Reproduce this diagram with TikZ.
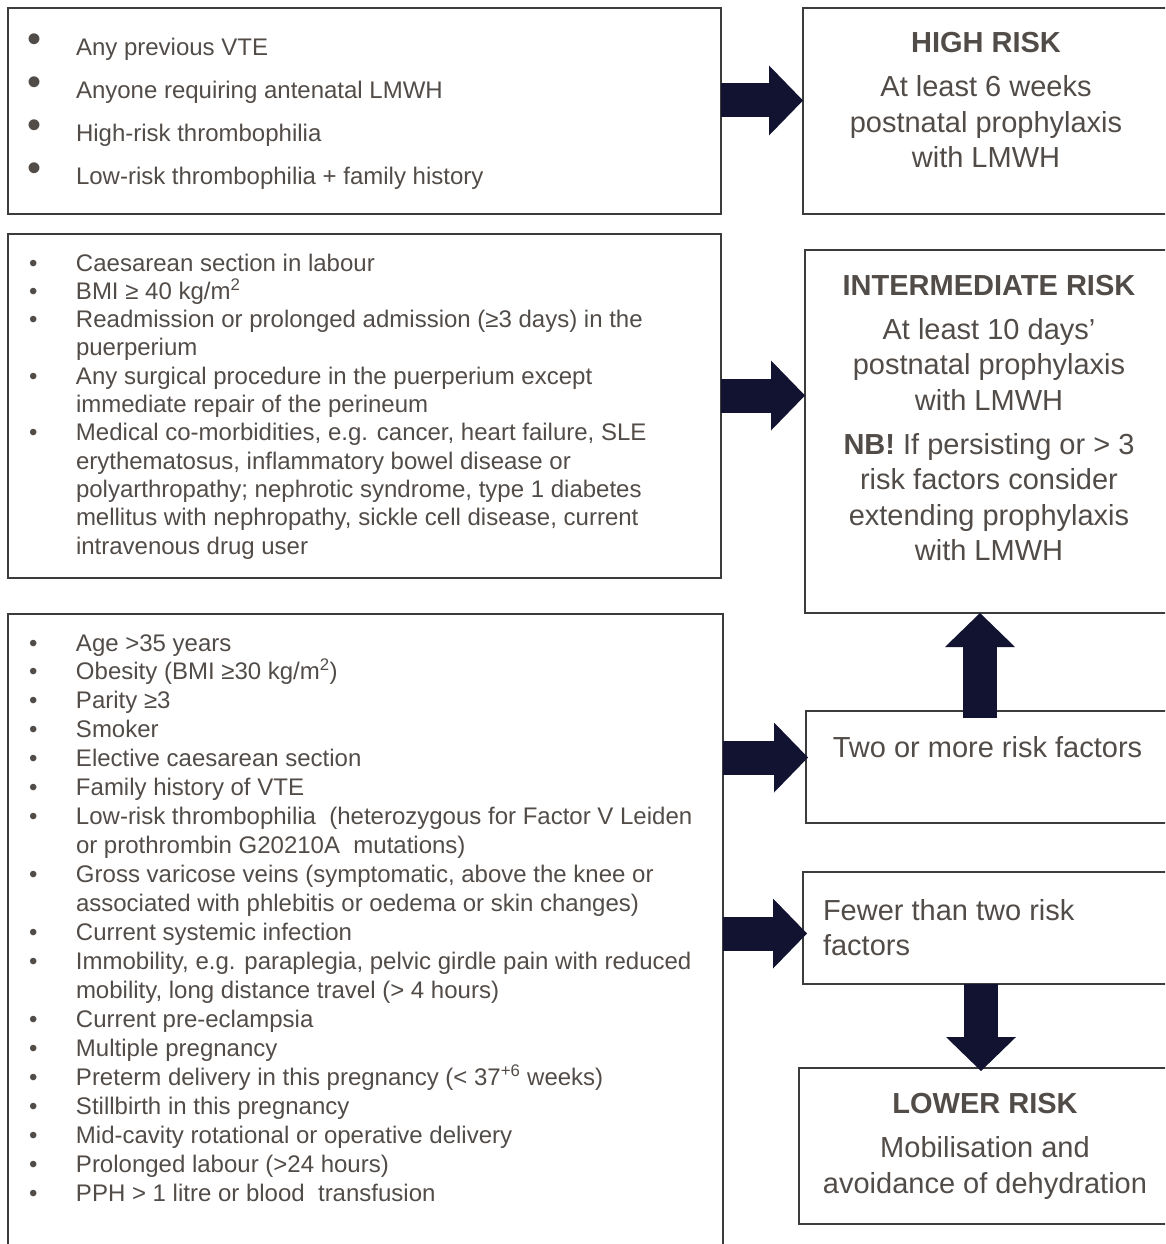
\documentclass[tikz,border=0pt]{standalone}
\usepackage{fontspec}
\setmainfont{Liberation Sans}
\usetikzlibrary{arrows.meta,calc}

\definecolor{txtcol}{RGB}{82,76,72}
\definecolor{arrcol}{RGB}{18,19,48}
\definecolor{linecol}{RGB}{60,60,60}

\newcommand{\hitem}[1]{\par\noindent\makebox[68pt][l]{\hspace*{20pt}\raisebox{2.5pt}{\fontsize{40}{40}\selectfont\textbullet}}#1}
\newcommand{\litem}[1]{\par\hangindent=68pt\hangafter=1\noindent\makebox[68pt][l]{\hspace*{21pt}\textbullet}#1}

\begin{document}
\begin{tikzpicture}[x=1pt,y=-1pt,
  rbox/.style={draw=linecol,line width=1.3pt,inner sep=0pt,outer sep=0pt,text=txtcol,anchor=north west},
  blk/.style={draw=arrcol,line width=34pt,-{Triangle[length=34pt,width=70pt,line width=0pt]}}]
  \useasboundingbox (0,0) rectangle (1165,1244);
  \clip (0,0) rectangle (1165,1244);

  \node[rbox] (risk1) at (8,8) {\parbox[t][206pt][t]{713pt}{\raggedright\fontsize{24}{43}\selectfont
    \hitem{\rule{0pt}{47.5pt}Any previous VTE}
    \hitem{Anyone requiring antenatal LMWH}
    \hitem{High-risk thrombophilia}
    \hitem{Low-risk thrombophilia + family history}}};
  \node[rbox] (risk2) at (8,234) {\parbox[t][344pt][t]{713pt}{\raggedright\fontsize{24}{28.3}\selectfont
    \litem{\rule{0pt}{37pt}Caesarean section in labour}
    \litem{BMI ≥ 40 kg/m\textsuperscript{2}}
    \litem{Readmission or prolonged admission (≥3 days) in the\newline puerperium}
    \litem{Any surgical procedure in the puerperium except\newline immediate repair of the perineum}
    \litem{Medical co-morbidities, e.g. cancer, heart failure, SLE\newline erythematosus, inflammatory bowel disease or\newline polyarthropathy; nephrotic syndrome, type 1 diabetes\newline mellitus with nephropathy, sickle cell disease, current\newline intravenous drug user}}};
  \node[rbox] (risk3) at (8,614) {\parbox[t][650pt][t]{715pt}{\raggedright\fontsize{24}{28.95}\selectfont
    \litem{\rule{0pt}{37pt}Age >35 years}
    \litem{Obesity (BMI ≥30 kg/m\textsuperscript{2})}
    \litem{Parity ≥3}
    \litem{Smoker}
    \litem{Elective caesarean section}
    \litem{Family history of VTE}
    \litem{Low-risk thrombophilia~ (heterozygous for Factor V Leiden\newline or prothrombin G20210A~ mutations)}
    \litem{Gross varicose veins (symptomatic, above the knee or\newline associated with phlebitis or oedema or skin changes)}
    \litem{Current systemic infection}
    \litem{Immobility, e.g. paraplegia, pelvic girdle pain with reduced\newline mobility, long distance travel (> 4 hours)}
    \litem{Current pre-eclampsia}
    \litem{Multiple pregnancy}
    \litem{Preterm delivery in this pregnancy (< 37\textsuperscript{+6} weeks)}
    \litem{Stillbirth in this pregnancy}
    \litem{Mid-cavity rotational or operative delivery}
    \litem{Prolonged labour (>24 hours)}
    \litem{PPH > 1 litre or blood~ transfusion}}};

  \node[rbox] (high) at (803,8) {\parbox[t][206pt][t]{366pt}{\centering\fontsize{29}{35.5}\selectfont
    \rule{0pt}{45pt}\textbf{HIGH RISK}\\[8.5pt]
    At least 6 weeks\\postnatal prophylaxis\\with LMWH}};
  \node[rbox] (interm) at (805,250) {\parbox[t][363pt][t]{368pt}{\centering\fontsize{29}{35.5}\selectfont
    \rule{0pt}{45pt}\textbf{INTERMEDIATE RISK}\\[8.5pt]
    At least 10 days’\\postnatal prophylaxis\\with LMWH\\[8.5pt]
    \textbf{NB!} If persisting or > 3\\risk factors consider\\extending prophylaxis\\with LMWH}};
  \node[rbox] (two) at (806,711) {\parbox[t][112pt][t]{363pt}{\centering\fontsize{29}{35.5}\selectfont
    \rule{0pt}{46.5pt}Two or more risk factors}};
  \node[rbox] (fewer) at (803,872) {\parbox[t][112pt][t]{366pt}{\raggedright\leftskip=20pt\fontsize{29}{35}\selectfont
    \rule{0pt}{48pt}Fewer than two risk\\factors}};
  \node[rbox] (lower) at (799,1068) {\parbox[t][156pt][t]{372pt}{\centering\fontsize{29}{35.5}\selectfont
    \rule{0pt}{45pt}\textbf{LOWER RISK}\\[9pt]
    Mobilisation and\\avoidance of dehydration}};

  \draw[blk] (risk1.east |- 0,100.5) -- (high.west |- 0,100.5);
  \draw[blk] (risk2.east |- 0,395.5) -- (interm.west |- 0,395.5);
  \draw[blk] (risk3.east |- 0,757.5) -- ($(two.west |- 0,757.5)+(2,0)$);
  \draw[blk] (risk3.east |- 0,933.5) -- ($(fewer.west |- 0,933.5)+(4,0)$);
  \draw[blk] ($(two.north -| 980,0)+(0,7)$) -- (interm.south -| 980,0);
  \draw[blk] (fewer.south -| 981,0) -- ($(lower.north -| 981,0)+(0,3)$);
\end{tikzpicture}
\end{document}
